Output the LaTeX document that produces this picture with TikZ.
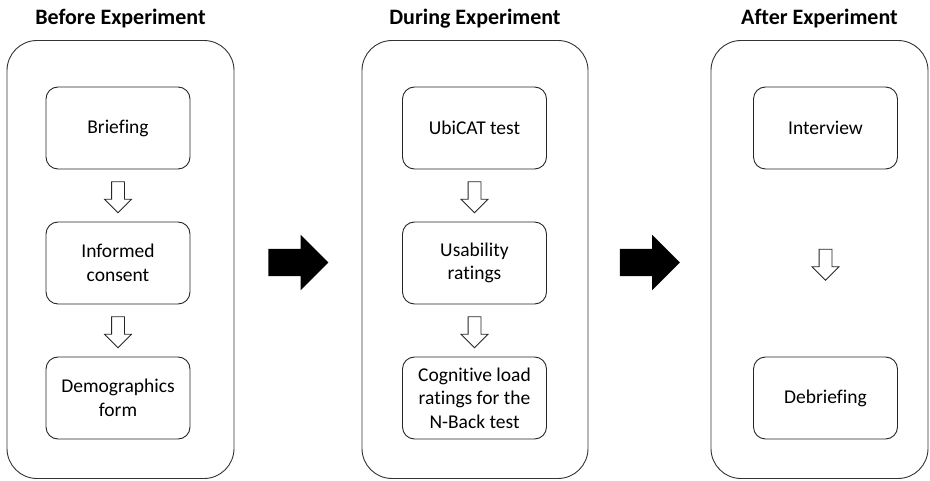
\documentclass[tikz,border=0pt]{standalone}
\usepackage{fontspec}
\setmainfont{Carlito}[Ligatures=NoCommon]
\usetikzlibrary{shapes.arrows,calc}

\tikzset{
  panel/.style={draw=black!80, rounded corners=30pt, line width=0.9pt, minimum height=438pt, inner sep=0pt},
  stepbox/.style={draw=black!85, rounded corners=12pt, line width=0.9pt, minimum width=144pt, minimum height=82pt, inner sep=2pt, align=center, font=\fontsize{19.5}{23.5}\selectfont},
  phase/.style={font=\fontsize{22}{26}\selectfont\bfseries, anchor=base},
  flow/.style={single arrow, draw=black!85, line width=0.8pt, rotate=-90, minimum height=31pt, single arrow head extend=7pt, inner sep=6pt},
  bigflow/.style={single arrow, fill=black, minimum height=60pt, single arrow head extend=14pt, inner sep=13.5pt},
}

\begin{document}
\begin{tikzpicture}[x=1pt, y=-1pt]
  \useasboundingbox (0,0) rectangle (930,481);

  % three phases
  \node[panel, minimum width=227pt] (before) at (120.5,259.5) {};
  \node[panel, minimum width=226pt] (during) at (475,259.5) {};
  \node[panel, minimum width=217pt] (after) at (819.5,259.5) {};

  \node[phase] (tbefore) at ([yshift=16pt]before.north) {Before Experiment};
  \node[phase] (tduring) at ([yshift=16pt]during.north) {During Experiment};
  \node[phase] (tafter) at ([yshift=16pt]after.north) {After Experiment};

  % steps before
  \node[stepbox] (brief) at (118,128) {Briefing};
  \node[stepbox] (consent) at (118,263) {Informed\\consent};
  \node[stepbox] (demo) at (118,398) {Demographics\\form};

  % steps during
  \node[stepbox] (ubicat) at (474.5,128) {UbiCAT test};
  \node[stepbox] (usab) at (474.5,263) {Usability\\ratings};
  \node[stepbox] (cogload) at (474.5,398) {Cognitive load\\ratings for the\\N-Back test};

  % steps after
  \node[stepbox] (interview) at (825.5,128) {Interview};
  \node[stepbox] (debrief) at (825.5,398) {Debriefing};

  % hollow arrows between steps
  \node[flow] (f1) at ([yshift=1.5pt]$(brief.south)!0.5!(consent.north)$) {};
  \node[flow] (f2) at ([yshift=1.5pt]$(consent.south)!0.5!(demo.north)$) {};
  \node[flow] (f3) at ([yshift=1.5pt]$(ubicat.south)!0.5!(usab.north)$) {};
  \node[flow] (f4) at ([yshift=1.5pt]$(usab.south)!0.5!(cogload.north)$) {};
  \node[flow] (f5) at ([yshift=1.5pt]$(interview.south)!0.5!(debrief.north)$) {};

  % black arrows between phases
  \node[bigflow] (g1) at ([xshift=-6.5pt, yshift=-3pt]$(before.east)!0.5!(during.west)$) {};
  \node[bigflow] (g2) at ([xshift=-6.5pt, yshift=-3pt]$(during.east)!0.5!(after.west)$) {};
\end{tikzpicture}
\end{document}
